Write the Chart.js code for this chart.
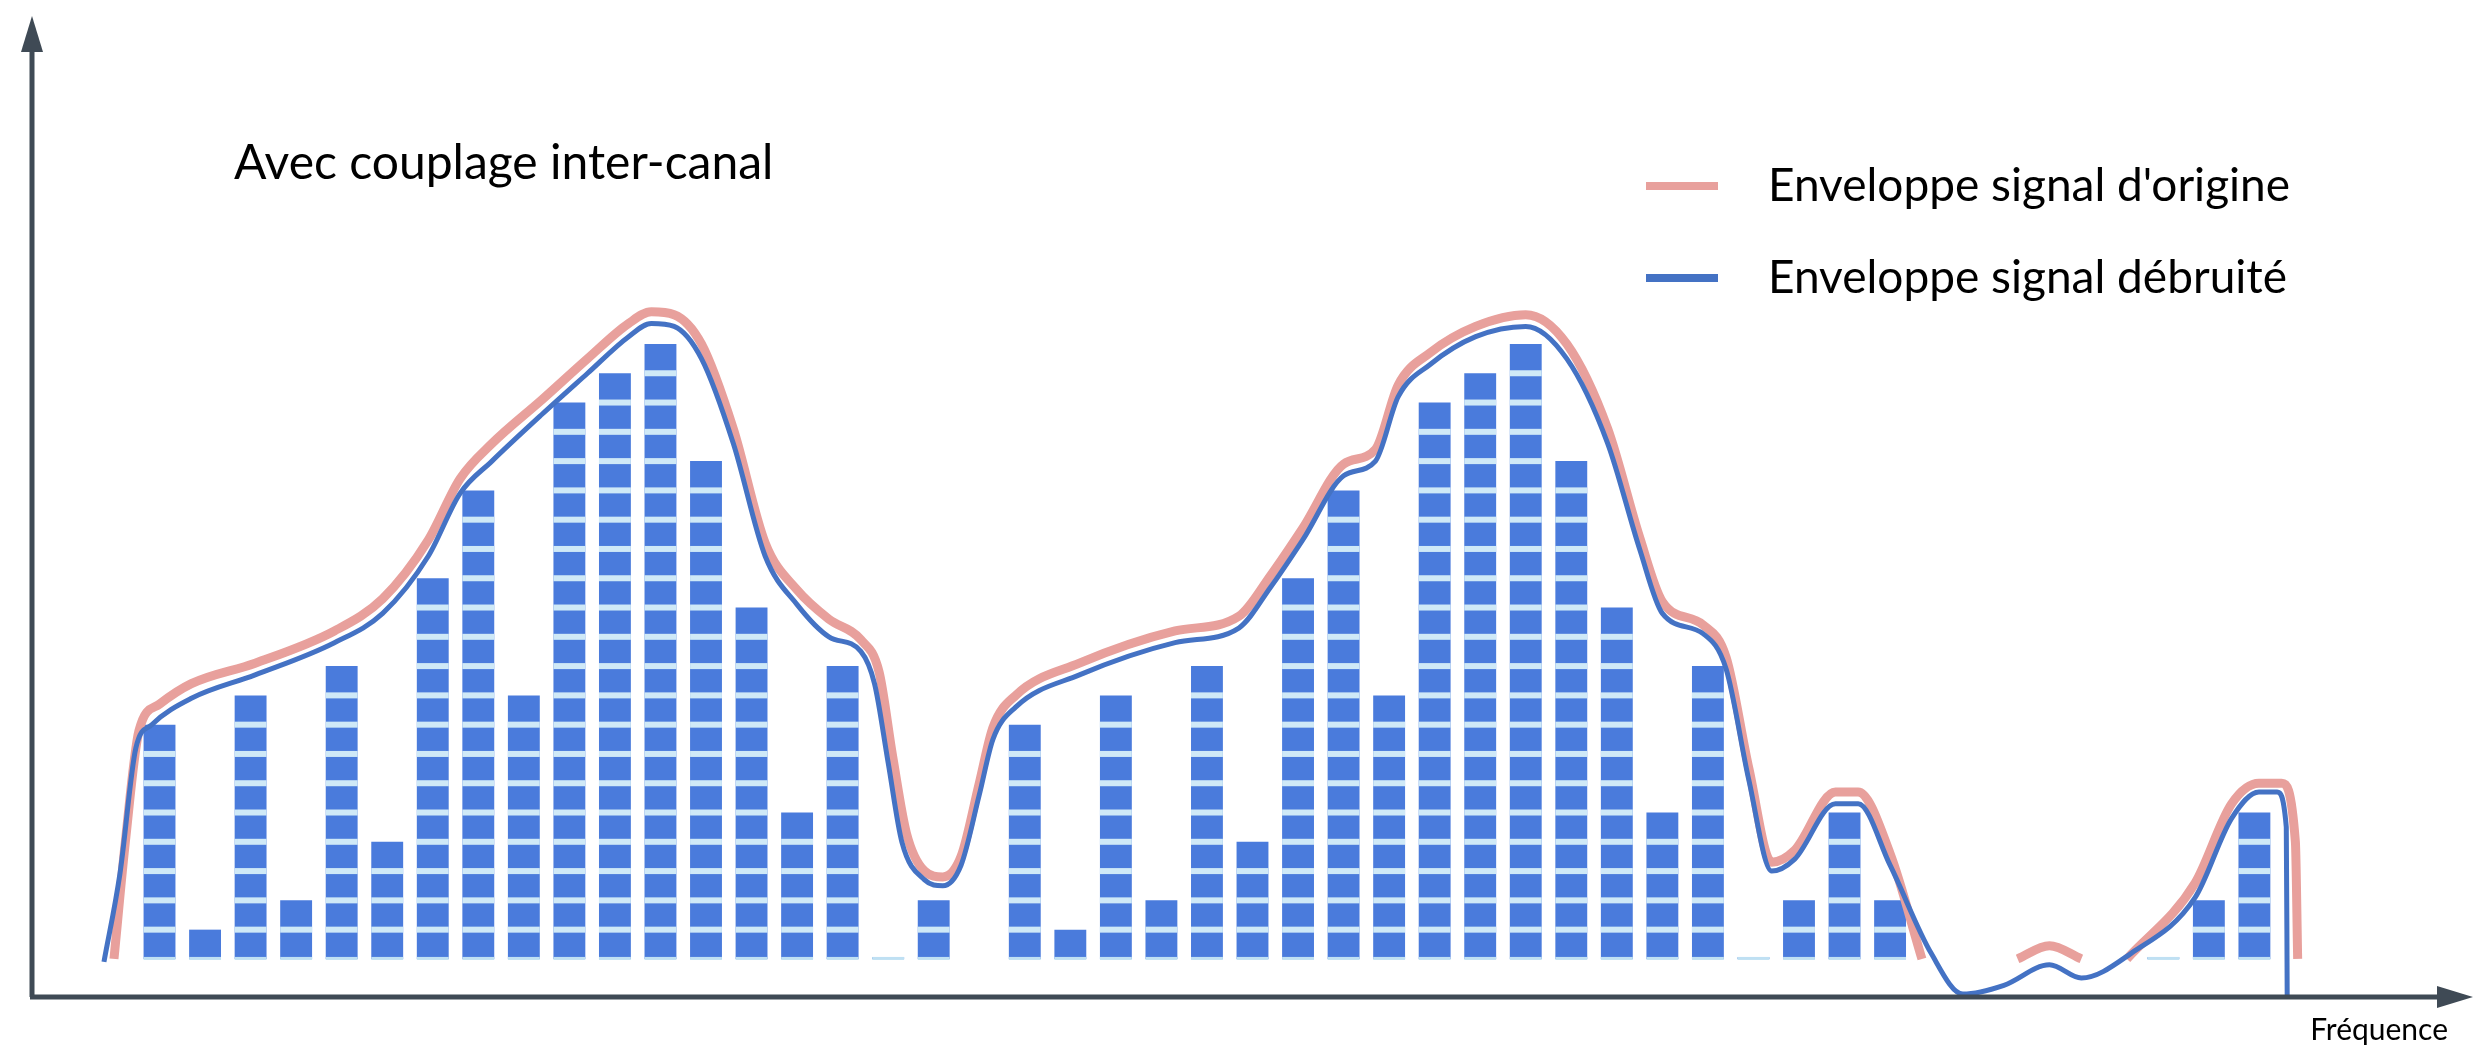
<!DOCTYPE html>
<html><head><meta charset="utf-8">
<script src="https://cdn.jsdelivr.net/npm/chart.js@4.4.1/dist/chart.umd.min.js"></script>
<style>html,body{margin:0;padding:0;background:#fff}#wrap{width:2481px;height:1056px}</style>
</head><body><div id="wrap"><canvas id="c" width="2481" height="1056"></canvas></div>
<script>
const chartTitle = "Avec couplage inter-canal";
const axisLabel = "Fréquence";
const seriesNames = ["Enveloppe signal d'origine", "Enveloppe signal débruité"];
// bar cell counts (null = no bar)
const barValues = [8,1,9,2,10,4,13,16,9,19,20,21,17,12,5,10,0,2, null,
  8,1,9,2,10,4,13,16,9,19,20,21,17,12,5,10,0,2,5,2,
  null,null,null,null,null,0,2,5];
const denoisedX = [-1.22,-0.87,-0.52,-0.17,0.7,2.1,3.84,4.9,5.9,6.6,7.3,8.4,9.4,10.3,10.8,11.3,11.9,12.6,13.3,14.0,14.7,15.4,15.7,16.0,16.3,16.8,17.2,17.6,18.0,18.3,18.8,20.2,22.3,23.7,24.4,25.1,26.0,26.7,27.2,27.9,28.9,30.0,30.9,31.8,32.5,33.0,33.9,34.4,34.9,35.4,35.9,36.8,37.3,38.0,38.9,39.6,40.5,41.5,42.2,43.3,44.7,45.5,46.1,46.5,46.7,46.72];
const denoisedY = [-0.1,2.9,7.2,8.0,8.9,9.7,10.8,11.8,13.75,15.9,17.0,18.6,20.0,21.25,21.7,21.6,20.5,17.6,13.75,12.1,11.0,10.5,9.4,6.7,4.0,2.7,2.5,3.2,5.6,7.5,8.6,9.7,10.8,11.3,12.7,14.3,16.5,17.0,19.2,20.3,21.25,21.6,20.5,17.6,14.0,11.8,11.1,9.9,6.1,3.0,3.4,5.3,5.3,3.2,0.2,-1.2,-0.9,-0.2,-0.65,0.2,2.1,4.8,5.7,5.7,4.5,-1.35];
const originalX = [-1.0,-0.75,-0.45,0.0,0.7,2.1,3.84,4.9,5.9,6.6,7.3,8.4,9.4,10.3,10.8,11.3,11.9,12.6,13.3,14.0,14.7,15.4,15.8,16.1,16.4,16.8,17.2,17.6,18.0,18.3,18.8,20.2,22.3,23.7,24.4,25.1,26.0,26.7,27.2,27.9,28.9,30.0,30.9,31.8,32.5,33.0,33.9,34.4,34.9,35.4,35.9,36.8,37.3,38.0,38.7,39.7,40.8,41.5,42.2,42.7,43.2,44.7,45.5,46.1,46.6,46.9,46.95];
const originalY = [0,4.0,7.8,8.7,9.4,10.1,11.2,12.3,14.3,16.4,17.6,19.1,20.5,21.7,22.1,22.0,21.0,18.1,14.2,12.6,11.6,10.9,9.8,6.9,4.3,3.0,2.8,3.5,6.0,7.9,9.0,10.1,11.2,11.7,13.1,14.7,16.9,17.4,19.6,20.7,21.6,22.0,21.0,18.1,14.4,12.2,11.4,10.3,6.5,3.3,3.7,5.7,5.7,3.6,0,null,0,0.45,0,null,0,2.6,5.3,6.0,6.0,4.0,0];

const barData = barValues.map((v,i)=>({x:i,y:v===null?null:(v===0?0.06:v)}));
const toPts = (xs,ys)=>xs.map((x,i)=>({x:x,y:ys[i]}));

const decor = {
  id:'decor',
  afterDatasetsDraw(chart){
    const ctx=chart.ctx, ys=chart.scales.y;
    const meta=chart.getDatasetMeta(0);
    ctx.save();
    meta.data.forEach((bar,i)=>{
      const v=barValues[i]; if(v===null||!bar) return;
      const w=bar.width, l=bar.x-w/2;
      if(!isFinite(w)||!isFinite(l)) return;
      ctx.fillStyle='#cfe9f7';
      for(let k=1;k<v;k++){ const py=ys.getPixelForValue(k); ctx.fillRect(l,py-3,w,6); }
      ctx.fillStyle='#bfe0f3';
      ctx.fillRect(l,ys.getPixelForValue(0)-2,w,3);
    });
    ctx.restore();
  },
  afterDraw(chart){
    const ctx=chart.ctx, a=chart.chartArea;
    ctx.save();
    ctx.strokeStyle='#3f4a55'; ctx.fillStyle='#3f4a55'; ctx.lineWidth=5;
    ctx.beginPath(); ctx.moveTo(a.left,a.bottom); ctx.lineTo(a.left,a.top+30); ctx.stroke();
    ctx.beginPath(); ctx.moveTo(a.left,a.top); ctx.lineTo(a.left-11,a.top+36); ctx.lineTo(a.left+11,a.top+36); ctx.closePath(); ctx.fill();
    ctx.beginPath(); ctx.moveTo(a.left-2,a.bottom); ctx.lineTo(a.right-30,a.bottom); ctx.stroke();
    ctx.beginPath(); ctx.moveTo(a.right,a.bottom); ctx.lineTo(a.right-36,a.bottom-11); ctx.lineTo(a.right-36,a.bottom+11); ctx.closePath(); ctx.fill();
    ctx.fillStyle='#000'; ctx.textBaseline='middle';
    ctx.font='30px Lato, "Open Sans", sans-serif'; ctx.textAlign='right';
    ctx.fillText(axisLabel, 2448, 1030);
    ctx.textAlign='left';
    ctx.font='48px Lato, "Open Sans", sans-serif';
    ctx.fillText(chartTitle, 234, 164);
    ctx.font='46px Lato, "Open Sans", sans-serif';
    const cols=['#e8a09c','#4472c4'], ly=[186,278];
    for(let i=0;i<2;i++){
      ctx.strokeStyle=cols[i]; ctx.lineWidth=8; ctx.lineCap='butt';
      ctx.beginPath(); ctx.moveTo(1646,ly[i]); ctx.lineTo(1718,ly[i]); ctx.stroke();
      ctx.fillText(seriesNames[i], 1768, ly[i]);
    }
    ctx.restore();
  }
};

new Chart(document.getElementById('c'),{
  type:'bar',
  data:{datasets:[
    {type:'bar',label:'cells',data:barData,backgroundColor:'#4a7bdc',barPercentage:0.7,categoryPercentage:1,order:3},
    {type:'line',label:seriesNames[0],data:toPts(originalX,originalY),borderColor:'#e8a09c',borderWidth:9,pointRadius:0,cubicInterpolationMode:'monotone',spanGaps:false,order:2},
    {type:'line',label:seriesNames[1],data:toPts(denoisedX,denoisedY),borderColor:'#4472c4',borderWidth:5,pointRadius:0,cubicInterpolationMode:'monotone',order:1}
  ]},
  options:{
    responsive:false,animation:false,devicePixelRatio:1,
    layout:{padding:{left:32,right:8,top:16,bottom:59}},
    plugins:{legend:{display:false},tooltip:{enabled:false}},
    scales:{
      x:{type:'linear',min:-2.8,max:50.8,display:false,offset:false},
      y:{min:-1.3,max:32.2,display:false}
    }
  },
  plugins:[decor]
});
</script></body></html>
